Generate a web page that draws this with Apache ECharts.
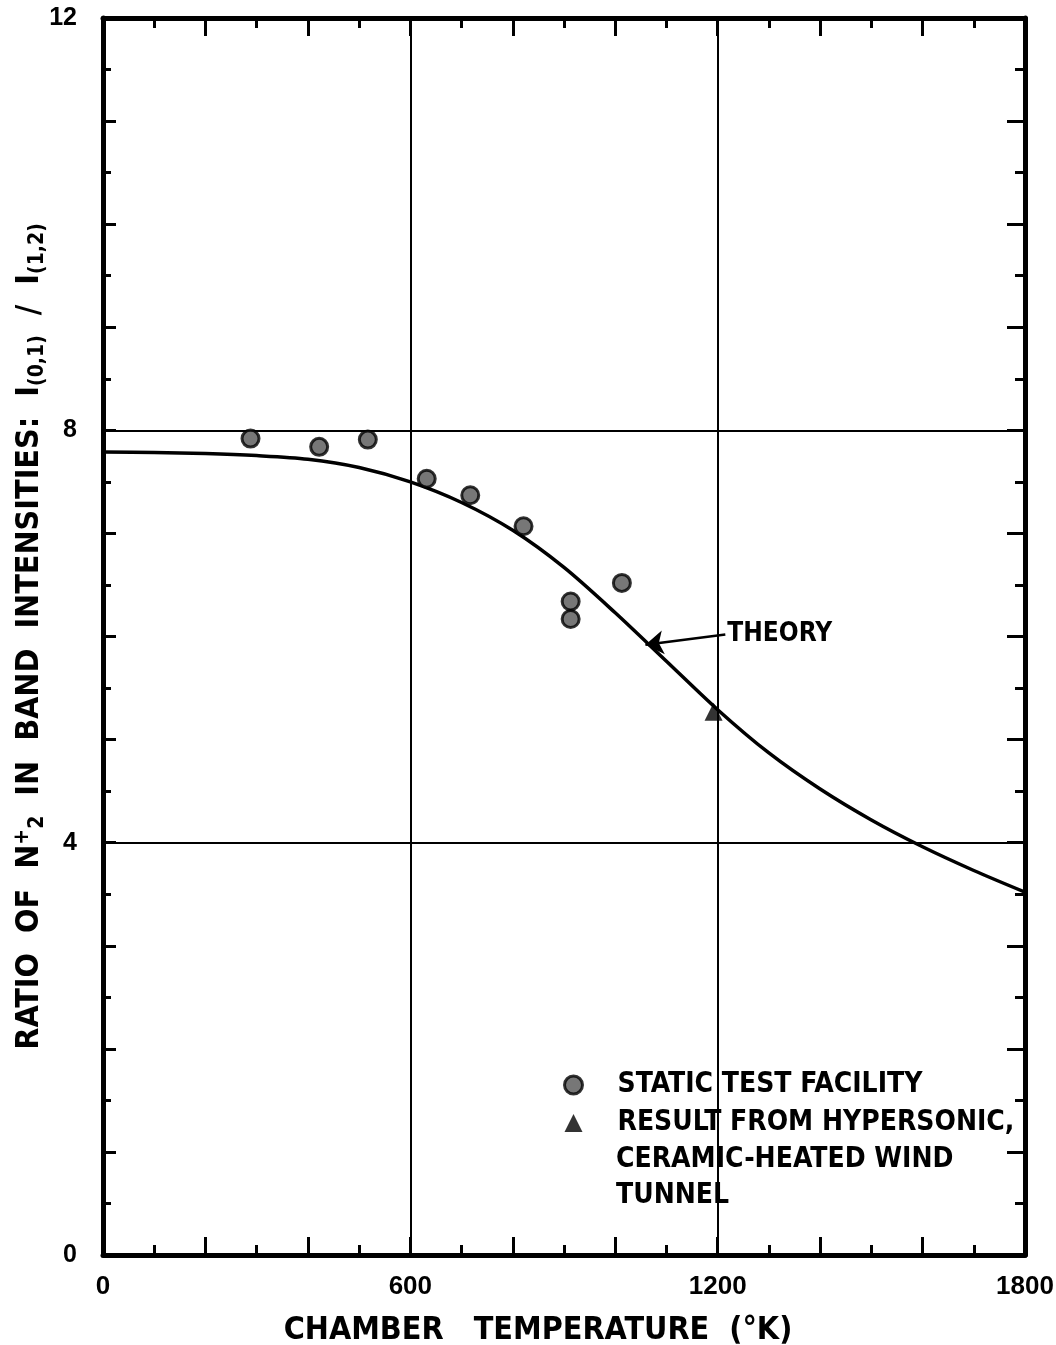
<!DOCTYPE html>
<html>
<head>
<meta charset="utf-8">
<script src="https://cdn.jsdelivr.net/npm/echarts@6/dist/echarts.min.js"></script>
<style>
html,body{margin:0;padding:0;background:#fff;}
#chart{width:1056px;height:1345px;}
</style>
</head>
<body>
<div id="chart"></div>
<script>
// ---- data ----
const xTickLabels = [0, 600, 1200, 1800];
const yTickLabels = [0, 4, 8, 12];
const staticTemp = [288, 422, 517, 632, 717, 821, 913, 913, 1013];
const staticRatio = [7.92, 7.84, 7.91, 7.53, 7.37, 7.07, 6.34, 6.17, 6.52];
const tunnelTemp = [1192];
const tunnelRatio = [5.27];
const theoryTemp = [0, 100, 200, 300, 400, 500, 600, 700, 800, 900, 1000, 1100, 1200, 1300, 1400, 1500, 1600, 1700, 1800];
const theoryRatio = [7.79, 7.785, 7.775, 7.755, 7.72, 7.64, 7.50, 7.30, 7.03, 6.67, 6.23, 5.76, 5.29, 4.87, 4.52, 4.22, 3.96, 3.73, 3.52];
const theoryArrowFrom = [1215, 6.02];
const theoryArrowTo = [1059, 5.92];

const FONT = "'Liberation Sans Narrow', 'DejaVu Sans Condensed', 'Liberation Sans', sans-serif";
const NUMFONT = "'Liberation Sans', 'DejaVu Sans', sans-serif";

const chart = echarts.init(document.getElementById('chart'), null, {renderer: 'canvas'});

function tickAxis(extra, longLen, shortLen) {
  return Object.assign({
    type: 'value',
    axisLine: {show: true, onZero: false, lineStyle: {color: '#000', width: 5}},
    axisTick: {show: true, inside: true, length: longLen, lineStyle: {color: '#000', width: 3}},
    minorTick: {show: true, splitNumber: 2, length: shortLen, lineStyle: {color: '#000', width: 3}},
    splitLine: {show: false},
    minorSplitLine: {show: false}
  }, extra);
}

const option = {
  backgroundColor: '#fff',
  animation: false,
  grid: {left: 103, right: 31, top: 18, bottom: 90, containLabel: false, outerBoundsMode: 'none'},
  xAxis: [
    tickAxis({
      position: 'bottom', min: 0, max: 1800, interval: 200,
      axisLabel: {
        show: true, margin: 19, color: '#000', fontSize: 26, fontWeight: 'bold', fontFamily: NUMFONT,
        formatter: v => (xTickLabels.indexOf(v) >= 0 ? String(v) : '')
      },
      name: 'CHAMBER   TEMPERATURE  (°K)', nameLocation: 'middle', nameGap: 60,
      nameTextStyle: {color: '#000', fontSize: 32, fontWeight: 'bold', fontFamily: FONT, padding: [0, 52, 0, 0]}
    }, 18, 10),
    tickAxis({
      position: 'top', min: 0, max: 1800, interval: 200, axisLabel: {show: false}
    }, 18, 10),
    {
      type: 'value', position: 'bottom', min: 0, max: 1800, interval: 600,
      axisLine: {show: false, onZero: false}, axisTick: {show: false}, axisLabel: {show: false},
      splitLine: {show: true, lineStyle: {color: '#000', width: 2, type: 'solid'}}
    }
  ],
  yAxis: [
    tickAxis({
      position: 'left', min: 0, max: 12, interval: 1,
      axisLabel: {
        show: true, margin: 26, color: '#000', fontSize: 25, fontWeight: 'bold', fontFamily: NUMFONT,
        formatter: v => (yTickLabels.indexOf(v) >= 0 ? String(v) : '')
      },
      name: 'RATIO  OF  N{sup|+}{sub|2}  IN  BAND  INTENSITIES:  I{sub|(0,1)}  /  I{sub|(1,2)}',
      nameLocation: 'middle', nameGap: 55, nameRotate: 90, nameMoveOverlap: false,
      nameTextStyle: {
        color: '#000', fontSize: 32, fontWeight: 'bold', fontFamily: FONT,
        rich: {
          sub: {color: '#000', fontSize: 21, fontWeight: 'bold', fontFamily: FONT, padding: [16, 0, 0, 0]},
          sup: {color: '#000', fontSize: 21, fontWeight: 'bold', fontFamily: FONT, padding: [0, 0, 14, 0]}
        }
      }
    }, 13, 8),
    tickAxis({
      position: 'right', min: 0, max: 12, interval: 1, axisLabel: {show: false}
    }, 18, 10),
    {
      type: 'value', position: 'left', min: 0, max: 12, interval: 4,
      axisLine: {show: false, onZero: false}, axisTick: {show: false}, axisLabel: {show: false},
      splitLine: {show: true, lineStyle: {color: '#000', width: 2, type: 'solid'}}
    }
  ],
  legend: {
    orient: 'vertical', left: 558, top: 1066, itemGap: 10, itemWidth: 18, itemHeight: 18,
    selectedMode: false,
    data: [
      {name: 'STATIC TEST FACILITY', icon: 'circle', itemStyle: {color: '#555', borderColor: '#000', borderWidth: 3}},
      {name: 'RESULT FROM HYPERSONIC,', icon: 'triangle', itemStyle: {color: '#000'}}
    ],
    textStyle: {color: '#000', fontSize: 28, fontWeight: 'bold', fontFamily: FONT, padding: [0, 0, 0, 30]}
  },
  graphic: [
    {
      type: 'text', left: 616, top: 1142,
      style: {text: 'CERAMIC-HEATED WIND\nTUNNEL', fill: '#000', font: "bold 28px " + FONT, lineHeight: 36}
    }
  ],
  series: [
    {
      name: 'THEORY', type: 'line', xAxisIndex: 0, yAxisIndex: 0,
      data: theoryTemp.map((t, i) => [t, theoryRatio[i]]),
      smooth: 0.3, showSymbol: false, symbol: 'none',
      lineStyle: {color: '#000', width: 3.5},
      markLine: {
        silent: true, symbol: ['none', 'arrow'], symbolSize: 18,
        lineStyle: {color: '#000', width: 2.5, type: 'solid'},
        label: {show: true, position: 'start', formatter: 'THEORY', color: '#000', fontSize: 26, fontWeight: 'bold', fontFamily: FONT, distance: 2},
        data: [[{coord: theoryArrowFrom}, {coord: theoryArrowTo}]]
      },
      z: 3
    },
    {
      name: 'STATIC TEST FACILITY', type: 'scatter', xAxisIndex: 0, yAxisIndex: 0,
      data: staticTemp.map((t, i) => [t, staticRatio[i]]),
      symbol: 'circle', symbolSize: 17,
      itemStyle: {color: '#555', borderColor: '#000', borderWidth: 3},
      z: 4
    },
    {
      name: 'RESULT FROM HYPERSONIC,', type: 'scatter', xAxisIndex: 0, yAxisIndex: 0,
      data: tunnelTemp.map((t, i) => [t, tunnelRatio[i]]),
      symbol: 'triangle', symbolSize: 18,
      itemStyle: {color: '#000'},
      z: 4
    }
  ]
};
chart.setOption(option);
</script>
</body>
</html>
